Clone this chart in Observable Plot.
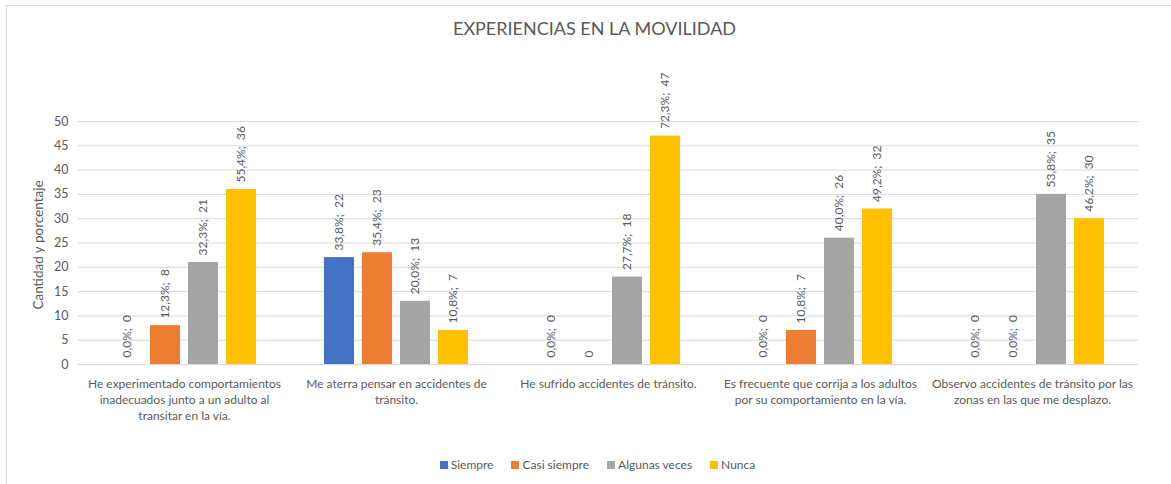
<!DOCTYPE html>
<html>
<head>
<meta charset="utf-8">
<script src="https://cdn.jsdelivr.net/npm/d3@7"></script>
<script src="https://cdn.jsdelivr.net/npm/@observablehq/plot@0.6"></script>
<style>
  html, body { margin: 0; padding: 0; background: #fff; }
  body { width: 1171px; height: 484px; overflow: hidden; position: relative; font-family: Lato, "Open Sans", sans-serif; color: #595959; }
  #frame { position: absolute; left: 6px; top: 5px; width: 1300px; height: 600px; border: 1px solid #D9D9D9; box-sizing: border-box; }
  #title { position: absolute; top: 16px; left: 9px; width: 1171px; text-align: center; font-size: 18px; line-height: 24px; color: #595959; }
  #ylabel { position: absolute; left: 38px; top: 245px; transform: translate(-50%, -50%) rotate(-90deg); white-space: nowrap; font-size: 13.5px; color: #595959; }
  #chart { position: absolute; top: 50px; left: 0; }
  #legend { position: absolute; top: 456px; left: 12px; width: 1171px; display: flex; justify-content: center; gap: 18px; font-size: 12px; line-height: 18px; color: #595959; }
  .item { display: flex; align-items: center; gap: 3px; }
  .sw { width: 8px; height: 8px; display: inline-block; }
</style>
</head>
<body>
<div id="frame"></div>
<div id="title">EXPERIENCIAS EN LA MOVILIDAD</div>
<div id="chart"></div>
<div id="ylabel">Cantidad y porcentaje</div>
<div id="legend"></div>
<script>
const categories = [
  "He experimentado comportamientos inadecuados junto a un adulto al transitar en la vía.",
  "Me aterra pensar en accidentes de tránsito.",
  "He sufrido accidentes de tránsito.",
  "Es frecuente que corrija a los adultos por su comportamiento en la vía.",
  "Observo accidentes de tránsito por las zonas en las que me desplazo."
];
const categoryLines = [
  ["He experimentado comportamientos", "inadecuados junto a un adulto al", "transitar en la vía."],
  ["Me aterra pensar en accidentes de", "tránsito."],
  ["He sufrido accidentes de tránsito."],
  ["Es frecuente que corrija a los adultos", "por su comportamiento en la vía."],
  ["Observo accidentes de tránsito por las", "zonas en las que me desplazo."]
];
const series = ["Siempre", "Casi siempre", "Algunas veces", "Nunca"];
const colors = ["#4472C4", "#ED7D31", "#A5A5A5", "#FFC000"];

const siempre      = [0, 22, 0, 0, 0];
const casiSiempre  = [8, 23, 0, 7, 0];
const algunasVeces = [21, 13, 18, 26, 35];
const nunca        = [36, 7, 47, 32, 30];

const siemprePct      = [0.0, 33.8, 0.0, 0.0, 0.0];
const casiSiemprePct  = [12.3, 35.4, null, 10.8, 0.0];
const algunasVecesPct = [32.3, 20.0, 27.7, 40.0, 53.8];
const nuncaPct        = [55.4, 10.8, 72.3, 49.2, 46.2];

const yTicks = [0, 5, 10, 15, 20, 25, 30, 35, 40, 45, 50];

const valueSets = [siempre, casiSiempre, algunasVeces, nunca];
const pctSets = [siemprePct, casiSiemprePct, algunasVecesPct, nuncaPct];

const rows = [];
categories.forEach((c, i) => {
  series.forEach((s, j) => {
    const v = valueSets[j][i];
    const p = pctSets[j][i];
    const label = p == null ? `${v}` : `${p.toFixed(1).replace(".", ",")}%;  ${v}`;
    rows.push({category: c, series: s, value: v, label});
  });
});

const chart = Plot.plot({
  width: 1171,
  height: 390,
  marginTop: 71,
  marginBottom: 76,
  marginLeft: 76,
  marginRight: 31,
  style: {fontFamily: "Lato, 'Open Sans', sans-serif", fontSize: "12px", color: "#595959", background: "transparent"},
  fx: {domain: categories, padding: 0},
  x: {domain: series, paddingInner: 0.22, paddingOuter: 0.874, axis: null},
  y: {domain: [0, 50]},
  color: {domain: series, range: colors},
  marks: [
    Plot.gridY(yTicks, {stroke: "#D9D9D9", strokeOpacity: 1, strokeWidth: 1}),
    Plot.axisY(yTicks, {tickSize: 0, tickPadding: 10, fontSize: 12.5, label: null}),
    Plot.axisFx({
      anchor: "bottom",
      tickSize: 0,
      tickPadding: 12,
      fontSize: 12,
      lineHeight: 1.33,
      label: null,
      tickFormat: d => categoryLines[categories.indexOf(d)].join("\n")
    }),
    Plot.barY(rows, {fx: "category", x: "series", y: "value", fill: "series"}),
    Plot.text(rows, {fx: "category", x: "series", y: "value", text: "label", rotate: -90, textAnchor: "start", dy: -7, fontSize: 12, fill: "#595959"})
  ]
});
document.getElementById("chart").appendChild(chart);

const legend = document.getElementById("legend");
series.forEach((s, i) => {
  const item = document.createElement("div");
  item.className = "item";
  const sw = document.createElement("span");
  sw.className = "sw";
  sw.style.background = colors[i];
  const t = document.createElement("span");
  t.textContent = s;
  item.appendChild(sw);
  item.appendChild(t);
  legend.appendChild(item);
});
</script>
</body>
</html>
